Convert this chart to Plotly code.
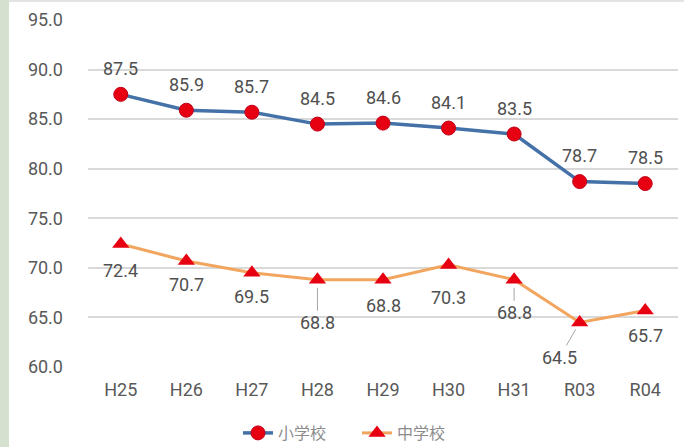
import plotly.graph_objects as go

categories = ["H25", "H26", "H27", "H28", "H29", "H30", "H31", "R03", "R04"]
elementary = [87.5, 85.9, 85.7, 84.5, 84.6, 84.1, 83.5, 78.7, 78.5]
junior = [72.4, 70.7, 69.5, 68.8, 68.8, 70.3, 68.8, 64.5, 65.7]
y_ticks = [60, 65, 70, 75, 80, 85, 90, 95]

# label offsets (pixels) for 中学校 labels, and leader-line flags
jr_dy = [26, 24, 24, 43, 26, 33, 33, 35, 25]
jr_dx = [0, 0, 0, 0, 0, 0, 0, -20, 0]
jr_leader = [False, False, False, True, False, False, True, True, False]

fig = go.Figure()
fig.add_trace(go.Scatter(
    x=categories, y=elementary, name="小学校", mode="lines+markers",
    line=dict(color="#4472a8", width=3.5),
    marker=dict(symbol="circle", size=14, color="#e60012", line=dict(color="#c00018", width=1)),
))
fig.add_trace(go.Scatter(
    x=categories, y=junior, name="中学校", mode="lines+markers",
    line=dict(color="#f2a55e", width=3),
    marker=dict(symbol="triangle-up", size=15, color="#e60012"),
))

annotations = []
lab_font = dict(family="Roboto, Noto Sans, sans-serif", size=18, color="#505050")
for c, v in zip(categories, elementary):
    annotations.append(dict(x=c, y=v, text=f"{v:.1f}", showarrow=False,
                            yshift=26, font=lab_font))
for c, v, dy, dx, lead in zip(categories, junior, jr_dy, jr_dx, jr_leader):
    if lead:
        annotations.append(dict(x=c, y=v, text=f"{v:.1f}", showarrow=True,
                                arrowhead=0, arrowwidth=1, arrowcolor="#a6a6a6",
                                ax=dx, ay=dy, standoff=8, font=lab_font))
    else:
        annotations.append(dict(x=c, y=v, text=f"{v:.1f}", showarrow=False,
                                yshift=-dy, xshift=dx, font=lab_font))

fig.update_layout(
    width=684, height=447,
    margin=dict(l=88, r=6, t=20, b=80, autoexpand=False),
    paper_bgcolor="white", plot_bgcolor="white",
    font=dict(family="Roboto, Noto Sans CJK JP, sans-serif", size=18, color="#595959"),
    xaxis=dict(type="category", range=[-0.5, len(categories) - 0.5],
               showgrid=False, showline=False, ticks="",
               ticklabelstandoff=10, automargin=False,
               tickfont=dict(size=18, color="#595959")),
    yaxis=dict(range=[60, 95], tickvals=y_ticks, ticktext=[f"{t:.1f}" for t in y_ticks],
               showgrid=True, gridcolor="#d9d9d9", gridwidth=1.5, zeroline=False,
               showline=False, ticklabelstandoff=24, automargin=False,
               tickfont=dict(size=18, color="#595959")),
    legend=dict(orientation="h", x=(238 - 88) / 590, xanchor="left",
                y=-66 / 347, yanchor="middle", entrywidth=74, entrywidthmode="pixels",
                font=dict(size=16, color="#8c8c8c",
                          family="Noto Sans CJK JP, sans-serif"),
                tracegroupgap=0, bgcolor="rgba(0,0,0,0)"),
    showlegend=True,
    annotations=annotations,
    shapes=[dict(type="rect", xref="paper", yref="paper",
                 x0=-88/590, x1=-79/590, y0=-80/347, y1=20/347 + 1,
                 fillcolor="#d5e0cf", line=dict(width=0), layer="below"),
            dict(type="line", xref="paper", yref="paper",
                 x0=-79/590, x1=1.02, y0=1 + 19/347, y1=1 + 19/347,
                 line=dict(color="#e3e3e3", width=2))],
)

fig.write_html("out.html", config={"displayModeBar": False},
               post_script="document.body.style.margin='0';document.body.style.padding='0';")
